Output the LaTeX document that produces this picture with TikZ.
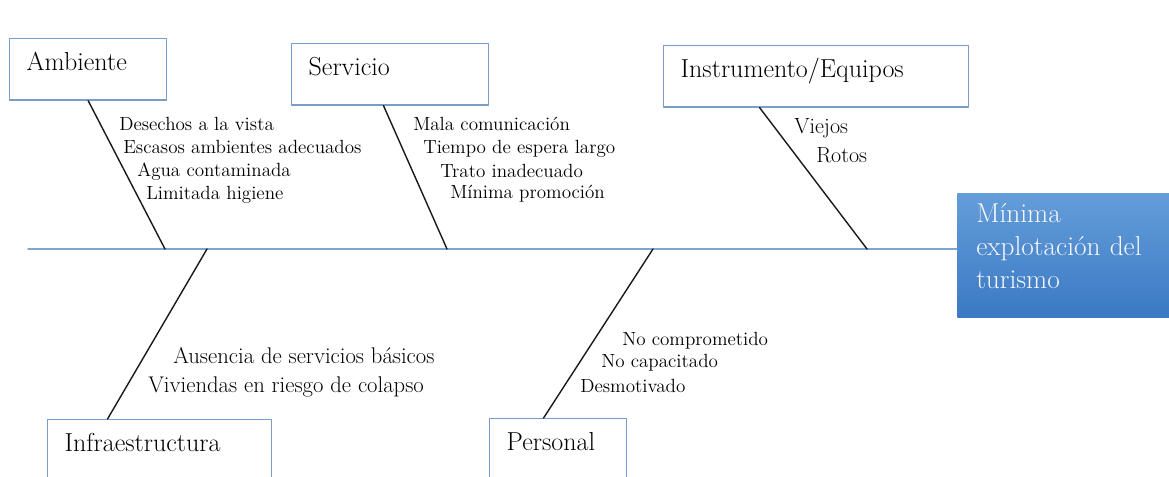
\documentclass[tikz,border=0pt]{standalone}
\usepackage{fontspec}
\definecolor{bordeazul}{RGB}{120,158,200}
\definecolor{ejeazul}{RGB}{125,165,210}
\definecolor{efectoarriba}{RGB}{100,157,216}
\definecolor{efectoabajo}{RGB}{58,121,196}
\begin{document}
\begin{tikzpicture}[x=0.75pt, y=-0.75pt, line join = round, line cap = round,
  causa/.style = {draw = bordeazul, line width = 1pt, anchor = north west, align = left,
    inner xsep = 12.75pt, inner ysep = 0pt, text height = 24pt, text depth = 22pt,
    font = \fontsize{19.5}{22}\selectfont},
  efecto/.style = {anchor = north west, top color = efectoarriba, bottom color = efectoabajo,
    text = white!97!blue, align = left, text width = 170pt, inner xsep = 14.25pt,
    inner ysep = 0pt, text height = 21.75pt, text depth = 71.25pt,
    font = \fontsize{20.5}{24.75}\selectfont},
  nota/.style = {anchor = base west, inner sep = 0pt, font = \fontsize{14.3}{18}\selectfont},
  espina/.style = {draw = black!90, line width = 1.05pt},
  eje/.style = {draw = ejeazul, line width = 1.1pt}]
\useasboundingbox (0, 0) rectangle (1169, 476);
\clip (0, 0) rectangle (1169, 476);

% cajas
\node[causa, text width = 92.25pt]  (ambiente)    at (9, 38)   {Ambiente};
\node[causa, text width = 122.25pt] (servicio)    at (291, 43) {Servicio};
\node[causa, text width = 203.25pt] (instrumento) at (663, 45) {Instrumento/Equipos};
\node[causa, text width = 142.5pt]  (infra)       at (47, 419) {Infraestructura};
\node[causa, text width = 77.25pt]  (personal)    at (489, 418) {Personal};
\node[efecto] (efecto) at (957, 193) {Mínima\\explotación del\\turismo};

% eje principal
\coordinate (cola) at (28, 249);
\draw[eje] (cola) -- (cola -| efecto.west);

% espinas
\foreach \caja/\x [count = \i] in {ambiente.south/165, servicio.258/447, instrumento.209/867,
    infra.149/207, personal.115/653}{
  \coordinate (pie-\i) at (\x, 249);
  \draw[espina] (\caja) -- (pie-\i);
}

% causas secundarias
\foreach \x/\y/\t [count = \i] in {119/130/Desechos a la vista, 123/153/Escasos ambientes adecuados,
    137/176/Agua contaminada, 146/199/Limitada higiene}
  \node[nota] (amb-\i) at (\x, \y) {\t};
\foreach \x/\y/\t [count = \i] in {413/130/Mala comunicación, 423/153/Tiempo de espera largo,
    440/177/Trato inadecuado, 450/198/Mínima promoción}
  \node[nota] (serv-\i) at (\x, \y) {\t};
\foreach \x/\y/\t [count = \i] in {794/133/Viejos, 816/162/Rotos}
  \node[nota, font = \fontsize{16.5}{19}\selectfont] (inst-\i) at (\x, \y) {\t};
\foreach \x/\y/\t [count = \i] in {173/363/Ausencia de servicios básicos, 148/392/Viviendas en riesgo de colapso}
  \node[nota, font = \fontsize{17}{19}\selectfont] (infra-\i) at (\x, \y) {\t};
\foreach \x/\y/\t [count = \i] in {622/345/No comprometido, 601/367/No capacitado, 580/392/Desmotivado}
  \node[nota] (pers-\i) at (\x, \y) {\t};
\end{tikzpicture}
\end{document}
